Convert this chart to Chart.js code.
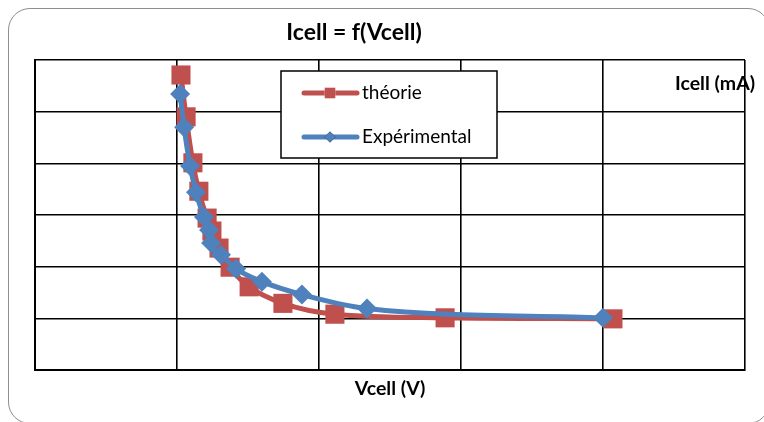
<!DOCTYPE html>
<html lang="fr">
<head>
<meta charset="UTF-8">
<title>Icell = f(Vcell)</title>
<script src="https://cdn.jsdelivr.net/npm/chart.js"></script>
<style>
    html, body { margin: 0; padding: 0; background: #fff; overflow: hidden; }
    #wrap { position: relative; width: 764px; height: 422px; overflow: hidden; }
    #frame { position: absolute; left: 8px; top: 8px; width: 762px; height: 416px; border: 1.5px solid #8e8e8e; border-radius: 22px; box-sizing: border-box; }
    #c { position: absolute; left: 0; top: 0; }
</style>
</head>
<body>
<div id="wrap">
    <div id="frame"></div>
    <canvas id="c" width="764" height="422"></canvas>
</div>
<script>
// valeurs (Vcell en V, Icell en mA)
const vTheorie = [0.514, 0.532, 0.556, 0.577, 0.606, 0.623, 0.648, 0.687, 0.754, 0.873, 1.056, 1.444, 2.035];
const iTheorie = [57.1, 49.0, 40.1, 34.6, 29.4, 26.9, 23.6, 19.9, 16.1, 12.9, 10.8, 10.1, 9.9];
const vExp = [0.511, 0.525, 0.546, 0.567, 0.595, 0.613, 0.620, 0.655, 0.708, 0.799, 0.940, 1.169, 2.000];
const iExp = [53.4, 47.0, 39.5, 34.4, 29.6, 27.1, 24.6, 22.3, 19.6, 17.1, 14.6, 11.9, 10.1];
const seriesNames = ['théorie', 'Expérimental'];
const titre = 'Icell = f(Vcell)';
const titreX = 'Vcell (V)';
const titreY = 'Icell (mA)';

const rouge = '#C0504D';
const bleu = '#4F81BD';
const police = 'Lato, "Liberation Sans", sans-serif';

const toPts = (xs, ys) => xs.map((x, i) => ({ x: x, y: ys[i] }));

// textes + légende dessinés à la main (position façon Excel)
const decor = {
    id: 'decor',
    afterDatasetsDraw(chart) {
        const ctx = chart.ctx;
        ctx.save();
        // légende
        const lx = 281, ly = 71, lw = 216, lh = 87;
        ctx.fillStyle = '#fff';
        ctx.fillRect(lx, ly, lw, lh);
        ctx.strokeStyle = '#000';
        ctx.lineWidth = 1.5;
        ctx.strokeRect(lx, ly, lw, lh);
        chart.data.datasets.forEach((ds, i) => {
            const y = 93 + i * 44;
            ctx.strokeStyle = ds.borderColor;
            ctx.lineWidth = 5;
            ctx.lineCap = 'round';
            ctx.beginPath();
            ctx.moveTo(304, y);
            ctx.lineTo(357, y);
            ctx.stroke();
            Chart.helpers.drawPoint(ctx, { pointStyle: ds.pointStyle, radius: i === 0 ? 7.5 : 5.5, borderWidth: 0 }, 330, y);
            ctx.fillStyle = ds.backgroundColor;
            ctx.fill();
            ctx.fillStyle = '#000';
            ctx.font = '19px ' + police;
            ctx.textBaseline = 'middle';
            ctx.textAlign = 'left';
            ctx.fillText(ds.label, 362, y);
        });
        // titres
        ctx.fillStyle = '#000';
        ctx.textAlign = 'center';
        ctx.textBaseline = 'middle';
        ctx.font = 'bold 23px ' + police;
        ctx.fillText(titre, 354, 33);
        ctx.font = 'bold 19.5px ' + police;
        ctx.fillText(titreY, 715, 84);
        const a = chart.chartArea;
        ctx.fillText(titreX, (a.left + a.right) / 2, 389);
        ctx.restore();
    }
};

new Chart(document.getElementById('c'), {
    type: 'scatter',
    data: {
        datasets: [
            {
                label: seriesNames[0],
                data: toPts(vTheorie, iTheorie),
                order: 2,
                showLine: true,
                borderColor: rouge,
                backgroundColor: rouge,
                borderWidth: 5,
                cubicInterpolationMode: 'monotone',
                pointStyle: 'rect',
                pointRadius: 13.5,
                pointBorderWidth: 0
            },
            {
                label: seriesNames[1],
                data: toPts(vExp, iExp),
                order: 1,
                showLine: true,
                borderColor: bleu,
                backgroundColor: bleu,
                borderWidth: 5,
                cubicInterpolationMode: 'monotone',
                pointStyle: 'rectRot',
                pointRadius: 10,
                pointBorderWidth: 0
            }
        ]
    },
    options: {
        responsive: false,
        animation: false,
        layout: { padding: { left: 35, right: 19, top: 60, bottom: 52 } },
        plugins: { legend: { display: false }, tooltip: { enabled: false }, title: { display: false } },
        scales: {
            x: {
                type: 'linear', min: 0, max: 2.5,
                ticks: { display: false, stepSize: 0.5 },
                grid: { color: '#000', lineWidth: 1.6, drawTicks: false },
                border: { color: '#000', width: 2 }
            },
            y: {
                type: 'linear', min: 0, max: 60,
                ticks: { display: false, stepSize: 10 },
                grid: { color: '#000', lineWidth: 1.6, drawTicks: false },
                border: { color: '#000', width: 2 }
            }
        }
    },
    plugins: [decor]
});
</script>
</body>
</html>
